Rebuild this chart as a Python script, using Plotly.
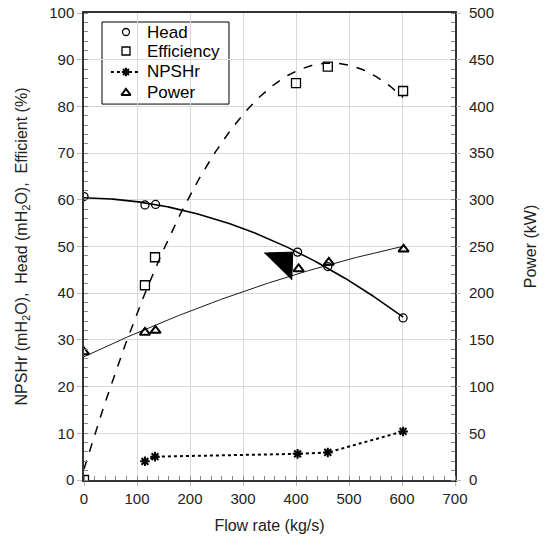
import numpy as np
import plotly.graph_objects as go

# ---- data ----
flow_head = [0, 115, 135, 403, 460, 602]
head = [60.7, 58.9, 59.0, 48.8, 45.7, 34.7]

flow_eff = [0, 115, 134, 400, 460, 602]
eff = [0.0, 41.7, 47.7, 85.0, 88.5, 83.3]

flow_npsh = [115, 134, 403, 460, 602]
npsh = [4.0, 5.0, 5.6, 5.9, 10.4]

flow_power = [0, 115, 135, 405, 462, 603]
power = [137, 158, 160, 226, 233, 247]

# stray filled triangle drawn on the original chart (x in kg/s, y in left-axis units)
tri_x = [340, 394, 392]
tri_y = [48.6, 48.8, 42.8]

x_ticks = [0, 100, 200, 300, 400, 500, 600, 700]
legend_names = ["Head", "Efficiency", "NPSHr", "Power"]

# polynomial trend lines (as in spreadsheet trendlines)
xf = np.linspace(0, 602, 200)
head_fit = np.polyval(np.polyfit(flow_head, head, 2), xf)
eff_fit = np.polyval(np.polyfit(flow_eff, eff, 2), xf)
pow_fit = np.polyval(np.polyfit(flow_power, power, 2), xf)

fig = go.Figure()

fig.add_trace(go.Scatter(x=xf, y=head_fit, mode="lines", line=dict(color="black", width=1.6),
                         showlegend=False, hoverinfo="skip"))
fig.add_trace(go.Scatter(x=xf, y=eff_fit, mode="lines", line=dict(color="black", width=1.5, dash="dash"),
                         showlegend=False, hoverinfo="skip"))
fig.add_trace(go.Scatter(x=xf, y=pow_fit, mode="lines", line=dict(color="black", width=0.9),
                         yaxis="y2", showlegend=False, hoverinfo="skip"))

m_head = dict(symbol="circle-open", size=8, color="black", line=dict(width=1.3))
m_eff = dict(symbol="square-open", size=9, color="black", line=dict(width=1.3))
m_npsh = dict(symbol="asterisk-open", size=8, color="black", line=dict(width=2))
m_pow = dict(symbol="triangle-up-open", size=9, color="black", line=dict(width=2))

fig.add_trace(go.Scatter(x=flow_head, y=head, mode="markers", name="Head", marker=m_head, showlegend=False))
fig.add_trace(go.Scatter(x=flow_eff, y=eff, mode="markers", name="Efficiency", marker=m_eff, showlegend=False))
fig.add_trace(go.Scatter(x=flow_npsh, y=npsh, mode="lines+markers", name="NPSHr", showlegend=False,
                         line=dict(color="black", width=2, dash="dot"), marker=m_npsh))
fig.add_trace(go.Scatter(x=flow_power, y=power, mode="markers", name="Power", yaxis="y2",
                         marker=m_pow, showlegend=False))

fig.add_trace(go.Scatter(x=tri_x, y=tri_y, mode="lines", fill="toself", fillcolor="black",
                         line=dict(color="black", width=1), showlegend=False, hoverinfo="skip"))

# ---- hand-built legend (spreadsheet style), on an overlay axis in plot fractions ----
row_y = [0.9593, 0.9186, 0.8737, 0.8287]
sym_x = 0.1132
fig.add_trace(go.Scatter(x=[0.0725, 0.1483], y=[row_y[2], row_y[2]], mode="lines",
                         line=dict(color="black", width=2, dash="dot"),
                         xaxis="x2", yaxis="y3", showlegend=False, hoverinfo="skip"))
for yy, mk in zip(row_y, [m_head, m_eff, m_npsh, m_pow]):
    small = dict(mk)
    small["size"] = mk["size"] - 1
    fig.add_trace(go.Scatter(x=[sym_x], y=[yy], mode="markers", marker=small,
                             xaxis="x2", yaxis="y3", showlegend=False, hoverinfo="skip"))
for yy, name in zip(row_y, legend_names):
    fig.add_annotation(x=0.165, y=yy, xref="paper", yref="paper", text=name, showarrow=False,
                       xanchor="left", yanchor="middle",
                       font=dict(family="Liberation Sans, Arial, sans-serif", size=17, color="black"))
fig.add_shape(type="rect", xref="paper", yref="paper", x0=0.0485, x1=0.3908, y0=0.805, y1=0.9807,
              line=dict(color="black", width=1), fillcolor="white", layer="between")

font = dict(family="Liberation Sans, Arial, sans-serif", size=15, color="#222222")

fig.update_layout(
    width=546, height=547,
    margin=dict(l=84, r=91, t=13, b=67),
    paper_bgcolor="white", plot_bgcolor="white",
    font=font,
    showlegend=False,
    xaxis=dict(range=[0, 700], tickvals=x_ticks, showgrid=True, gridcolor="#d9d9d9", gridwidth=1,
               automargin=False,
               showline=True, linecolor="#333333", linewidth=1.5, mirror=True,
               ticks="outside", ticklen=4, tickcolor="#bbbbbb",
               minor=dict(dtick=20, ticks="inside", ticklen=4, tickcolor="#888888", showgrid=False),
               zeroline=False,
               title=dict(text="Flow rate (kg/s)", font=dict(size=16), standoff=14)),
    xaxis2=dict(range=[0, 1], overlaying="x", visible=False, automargin=False),
    yaxis=dict(range=[0, 100], dtick=10, showgrid=True, gridcolor="#d9d9d9", gridwidth=1,
               automargin=False,
               showline=True, linecolor="#333333", linewidth=1.5, mirror=True,
               ticks="outside", ticklen=5, tickcolor="#bbbbbb",
               minor=dict(dtick=2, ticks="inside", ticklen=4, tickcolor="#888888", showgrid=False),
               zeroline=False,
               title=dict(text="NPSHr (mH<sub>2</sub>O),  Head (mH<sub>2</sub>O),  Efficient (%)",
                          font=dict(size=16), standoff=18)),
    yaxis2=dict(range=[0, 500], dtick=50, overlaying="y", side="right", showgrid=False,
                automargin=False, ticklabelstandoff=5,
                showline=False, ticks="outside", ticklen=5, tickcolor="#bbbbbb",
                minor=dict(dtick=10, ticks="inside", ticklen=4, tickcolor="#888888"),
                zeroline=False,
                title=dict(text="Power (kW)", font=dict(size=16), standoff=31)),
    yaxis3=dict(range=[0, 1], overlaying="y", visible=False, automargin=False),
)

fig.write_html("out.html", config={"displayModeBar": False},
               post_script="document.body.style.margin='0px';")
